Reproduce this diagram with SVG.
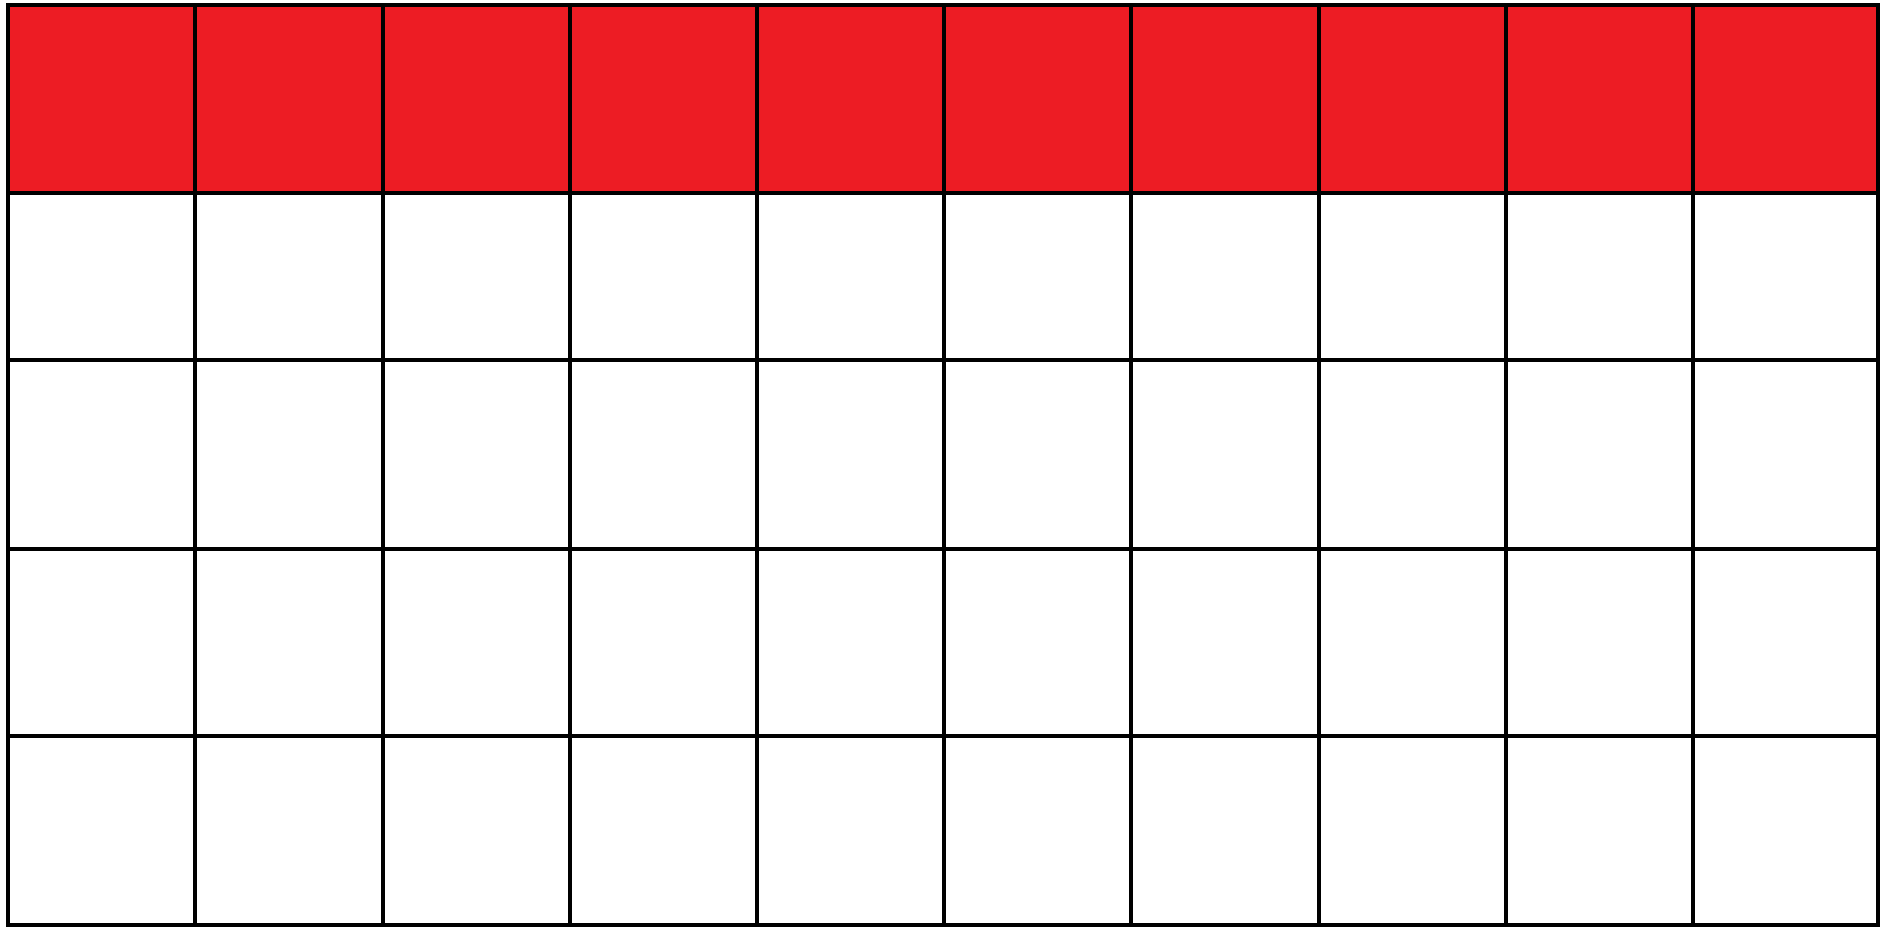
<svg xmlns="http://www.w3.org/2000/svg" width="1880" height="928" viewBox="0 0 1880 928">
<style>
.red{fill:#ED1C24}
.ln{stroke:#000;stroke-width:4;fill:none;stroke-linecap:square}
</style>
<rect x="0" y="0" width="1880" height="928" fill="#fff"/>
<g id="header-row">
<rect class="red" x="8" y="5" width="1870" height="188"/>
</g>
<g id="grid-lines" class="ln">
<path d="M8 5H1878M8 193H1878M8 360H1878M8 549H1878M8 736H1878M8 925H1878"/>
<path d="M8 5V925M195 5V925M383 5V925M570 5V925M757 5V925M944 5V925M1131 5V925M1319 5V925M1506 5V925M1693 5V925M1878 5V925"/>
</g>
</svg>
